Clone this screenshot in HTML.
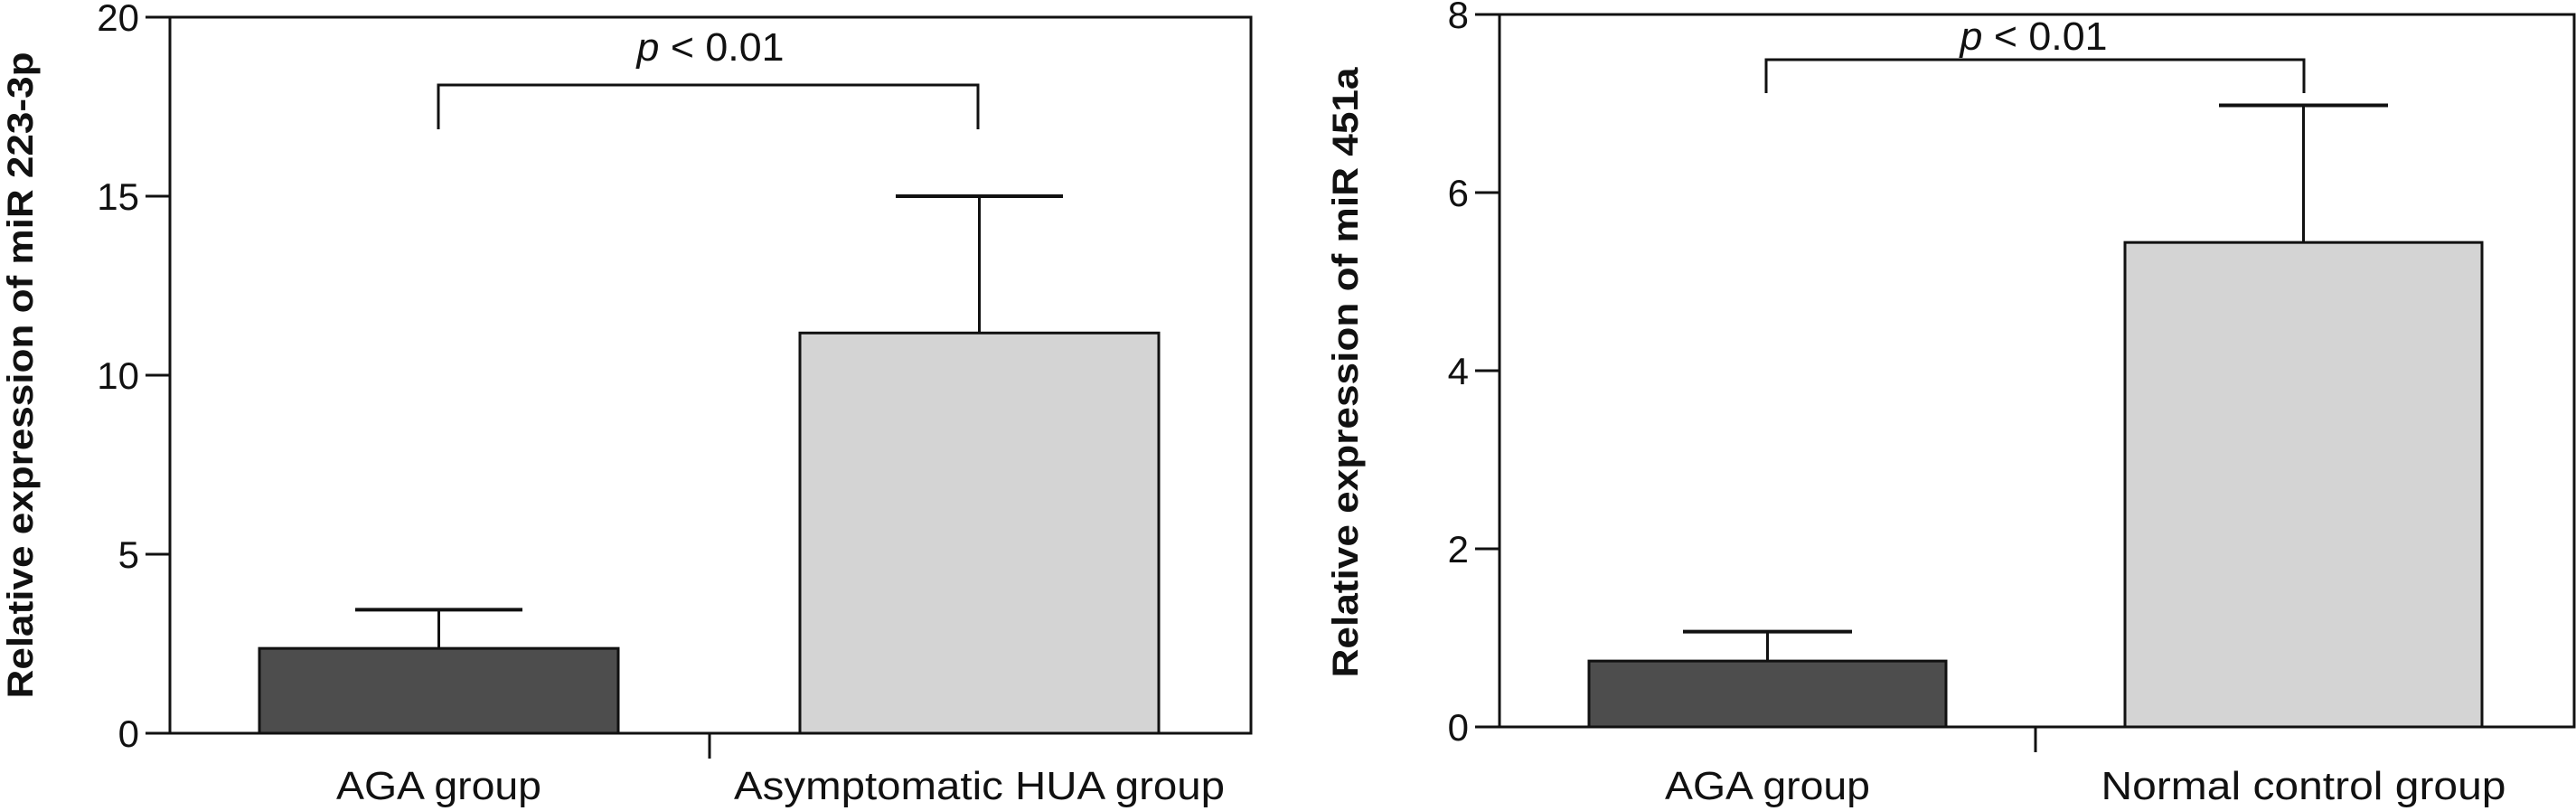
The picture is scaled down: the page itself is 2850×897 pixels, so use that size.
<!DOCTYPE html>
<html><head><meta charset="utf-8"><style>
html,body{margin:0;padding:0;background:#fff;}
svg{display:block;font-family:"Liberation Sans",sans-serif;}
</style></head><body>
<svg id="chart" width="2850" height="897" viewBox="0 0 2850 897" xmlns="http://www.w3.org/2000/svg"></svg>
<script>
// Panel A data
const catsA = ["AGA group", "Asymptomatic HUA group"];
const valsA = [2.37, 11.18];
const errA = [3.45, 15.0];
const ticksA = [0, 5, 10, 15, 20];
// Panel B data
const catsB = ["AGA group", "Normal control group"];
const valsB = [0.74, 5.44];
const errB = [1.07, 6.98];
const ticksB = [0, 2, 4, 6, 8];

const svg = document.getElementById('chart');
const NS = 'http://www.w3.org/2000/svg';
function mk(tag, attrs, parent) {
  const e = document.createElementNS(NS, tag);
  for (const k in attrs) e.setAttribute(k, attrs[k]);
  (parent || svg).appendChild(e);
  return e;
}

function panel(cfg) {
  const g = mk('g', {});
  
  
  const y = v => cfg.bottom - (v - cfg.min) / (cfg.max - cfg.min) * (cfg.bottom - cfg.top);
  const fr = mk('rect', {x: cfg.left, y: cfg.top, width: cfg.right - cfg.left, height: cfg.bottom - cfg.top, fill: 'none', stroke: '#111', 'stroke-width': 3}, g);
  
  
  cfg.ticks.forEach(t => {
    const l = mk('line', {x1: cfg.left - 27, x2: cfg.left, y1: y(t), y2: y(t), stroke: '#111', 'stroke-width': 3}, g);
    
    
    const tx = mk('text', {x: cfg.left - 34, y: y(t) + 15, 'text-anchor': 'end', 'font-size': 42, fill: '#111'}, g);
    tx.textContent = t;
    
    
  });
  const ct = mk('line', {x1: cfg.mid, x2: cfg.mid, y1: cfg.bottom, y2: cfg.bottom + 28, stroke: '#111', 'stroke-width': 3}, g);
  
  
  cfg.vals.forEach((v, i) => {
    const bx = cfg.barX[i];
    const cx = bx + cfg.barW / 2;
    const el = mk('line', {x1: cx, x2: cx, y1: y(v), y2: y(cfg.err[i]), stroke: '#111', 'stroke-width': 3}, g);
    
    
    const cap = mk('line', {x1: cx - cfg.capW / 2, x2: cx + cfg.capW / 2, y1: y(cfg.err[i]), y2: y(cfg.err[i]), stroke: '#111', 'stroke-width': 4}, g);
    
    
    const r = mk('rect', {x: bx, y: y(v), width: cfg.barW, height: y(cfg.min) - y(v), fill: i === 0 ? '#4d4d4d' : '#d4d4d4', stroke: '#111', 'stroke-width': 3}, g);
    
    
    const lb = mk('text', {x: cx, y: 884, 'text-anchor': 'middle', 'font-size': 44, fill: '#111',
      textLength: cfg.labW[i], lengthAdjust: 'spacingAndGlyphs'}, g);
    lb.textContent = cfg.cats[i];
    
    
  });
  const br = mk('polyline', {points: `${cfg.brL},${cfg.brLeg} ${cfg.brL},${cfg.brY} ${cfg.brR},${cfg.brY} ${cfg.brR},${cfg.brLeg}`, fill: 'none', stroke: '#111', 'stroke-width': 3}, g);
  
  
  const p = mk('text', {x: cfg.pX, y: cfg.pY, 'text-anchor': 'middle', 'font-size': 44, fill: '#111',
    textLength: 163, lengthAdjust: 'spacingAndGlyphs'}, g);
  p.innerHTML = '<tspan font-style="italic">p</tspan> &lt; 0.01';
  
  
  const yt = mk('text', {x: 0, y: 0, 'text-anchor': 'middle', 'font-size': 40, 'font-weight': 'bold', fill: '#111',
    transform: `translate(${cfg.ytX},${cfg.ytY}) rotate(-90)`, textLength: cfg.ytLen, lengthAdjust: 'spacingAndGlyphs'}, g);
  yt.textContent = cfg.ytitle;
  
  
}

panel({name: 'panel-mir223', left: 188, right: 1384, top: 19, bottom: 811, min: 0, max: 20, ticks: ticksA,
  vals: valsA, err: errA, cats: catsA, barX: [287, 885], barW: 397, capW: 185, mid: 785,
  labW: [227, 543], brL: 485, brR: 1082, brY: 94, brLeg: 143, pX: 786, pY: 67,
  ytitle: 'Relative expression of miR 223-3p', ytX: 36, ytY: 415, ytLen: 715});
panel({name: 'panel-mir451a', left: 1659, right: 2848, top: 16, bottom: 804, min: 0, max: 8, ticks: ticksB,
  vals: valsB, err: errB, cats: catsB, barX: [1758, 2351], barW: 395, capW: 187, mid: 2252,
  labW: [227, 448], brL: 1954, brR: 2549, brY: 66, brLeg: 103, pX: 2250, pY: 55,
  ytitle: 'Relative expression of miR 451a', ytX: 1502, ytY: 412, ytLen: 675});
</script>
</body></html>
